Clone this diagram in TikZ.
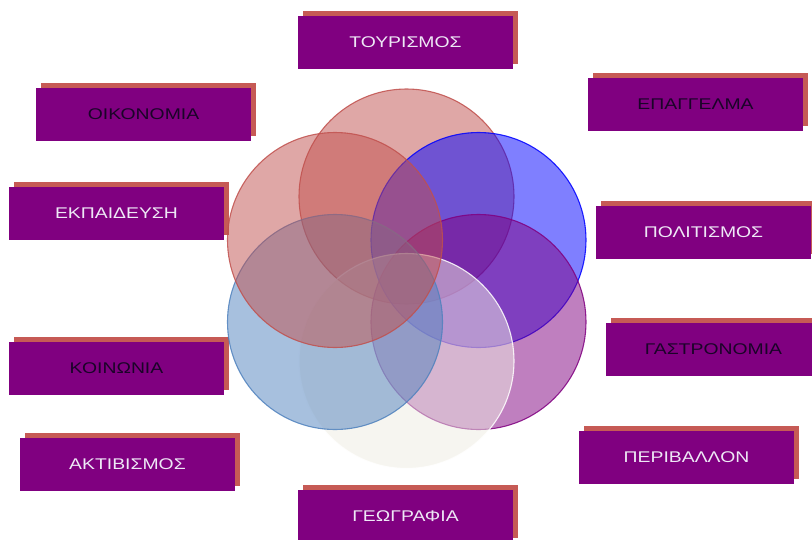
\documentclass[tikz,border=0pt]{standalone}
\usepackage{fontspec}
\setmainfont{Liberation Sans}
\newfontfamily\lblfont[FakeStretch=1.25]{Liberation Sans}
\usetikzlibrary{shadows}
\definecolor{boxpurple}{HTML}{800080}
\definecolor{shred}{HTML}{C65A55}
\definecolor{txtlight}{HTML}{EEE8F6}
\definecolor{txtdark}{HTML}{1A0428}
\definecolor{cred}{HTML}{C0504D}
\definecolor{cblue}{HTML}{0000FF}
\definecolor{cpurple}{HTML}{800080}
\definecolor{csteel}{HTML}{4F81BD}
\definecolor{cpaper}{HTML}{EEECE1}
\tikzset{
  lbl/.style={fill=boxpurple, minimum width=215pt, minimum height=53pt,
    inner sep=0pt, font=\lblfont\fontsize{15.5}{18}\selectfont,
    general shadow={shadow xshift=5pt, shadow yshift=5.5pt, fill=shred}},
  lt/.style={lbl, text=txtlight},
  dk/.style={lbl, text=txtdark},
  ring/.style={fill opacity=0.5, draw opacity=0.85, line width=1.1pt},
}
\begin{document}
\begin{tikzpicture}[x=1pt, y=-1pt]
\useasboundingbox (0,0) rectangle (812,539);

% labels around the circles
\node[lt] (tour) at (405.5,42.5) {ΤΟΥΡΙΣΜΟΣ};
\node[dk] (oik)  at (143.5,114.5) {ΟΙΚΟΝΟΜΙΑ};
\node[lt] (ekp)  at (116.5,213.5) {ΕΚΠΑΙΔΕΥΣΗ};
\node[dk] (koi)  at (116.5,368.5) {ΚΟΙΝΩΝΙΑ};
\node[lt] (akt)  at (127.5,464.5) {ΑΚΤΙΒΙΣΜΟΣ};
\node[dk] (epa)  at (695.5,104.5) {ΕΠΑΓΓΕΛΜΑ};
\node[lt] (pol)  at (703.5,232.5) {ΠΟΛΙΤΙΣΜΟΣ};
\node[dk] (gas)  at (713.5,349.5) {ΓΑΣΤΡΟΝΟΜΙΑ};
\node[lt] (per)  at (686.5,457.5) {ΠΕΡΙΒΑΛΛΟΝ};
\node[lt] (geo)  at (405.5,516.5) {ΓΕΩΓΡΑΦΙΑ};

% six overlapping translucent circles
\draw[ring, draw=cred, fill=cred]       (406.5,196.5) circle [radius=107.5pt];
\draw[ring, draw=cblue, fill=cblue]     (478.5,240)   circle [radius=107.5pt];
\draw[ring, draw=cpurple, fill=cpurple] (478.5,322)   circle [radius=107.5pt];
\draw[ring, draw=white, fill=cpaper]    (406.5,361)   circle [radius=107.5pt];
\draw[ring, draw=csteel, fill=csteel]   (335,322)     circle [radius=107.5pt];
\draw[ring, draw=cred, fill=cred]       (335,240)     circle [radius=107.5pt];
\end{tikzpicture}
\end{document}
